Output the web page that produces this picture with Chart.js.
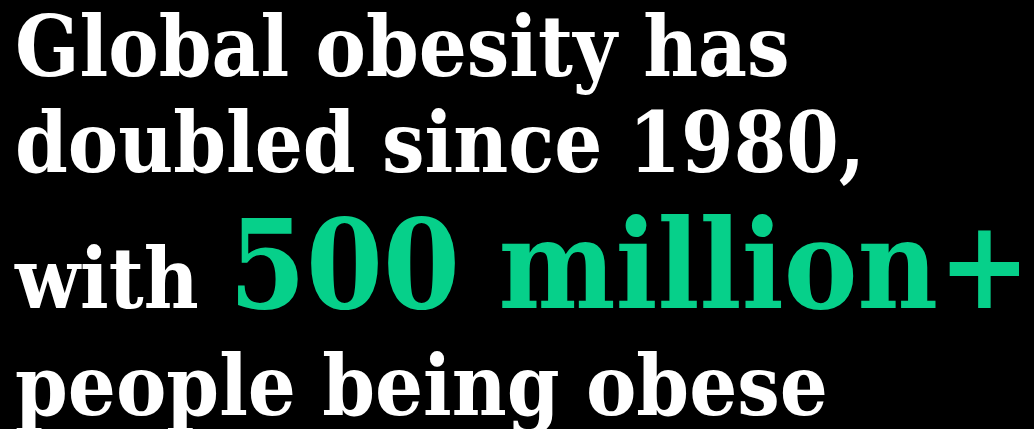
<!DOCTYPE html>
<html>
<head>
<meta charset="utf-8">
<script src="https://cdn.jsdelivr.net/npm/chart.js@4"></script>
<style>
  html, body { margin: 0; padding: 0; background: #000; }
  #wrap { width: 1034px; height: 429px; }
</style>
</head>
<body>
<div id="wrap"><canvas id="headline" width="1034" height="429"></canvas></div>
<script>
// Headline text, one entry per line
const whiteLines = ['Global obesity has', 'doubled since 1980,'];
const leadWord = 'with';
const highlight = '500 million+';
const lastLine = 'people being obese';

const whiteFont = "condensed bold 84px 'DejaVu Serif'";
const greenFont = "condensed bold 123px 'DejaVu Serif'";

// Draws the headline text onto the chart canvas
const headlinePlugin = {
    id: 'headline',
    afterDraw(chart) {
        const ctx = chart.ctx;
        const left = 15;
        ctx.save();
        ctx.textBaseline = 'alphabetic';
        ctx.textAlign = 'left';
        ctx.fillStyle = '#ffffff';
        ctx.font = whiteFont;
        ctx.fillText(whiteLines[0], left, 76);
        ctx.fillText(whiteLines[1], left, 172);
        ctx.fillText(leadWord, left, 308);
        const leadW = ctx.measureText(leadWord + ' ').width;
        ctx.fillText(lastLine, left, 415);
        ctx.fillStyle = '#06d08a';
        ctx.font = greenFont;
        ctx.fillText(highlight, left + leadW + 4, 308);
        ctx.restore();
    }
};

new Chart(document.getElementById('headline'), {
    type: 'bar',
    data: { labels: [], datasets: [] },
    options: {
        responsive: false,
        animation: false,
        events: [],
        layout: { padding: 0 },
        scales: { x: { display: false }, y: { display: false } },
        plugins: { legend: { display: false }, tooltip: { enabled: false } }
    },
    plugins: [headlinePlugin]
});
</script>
</body>
</html>
